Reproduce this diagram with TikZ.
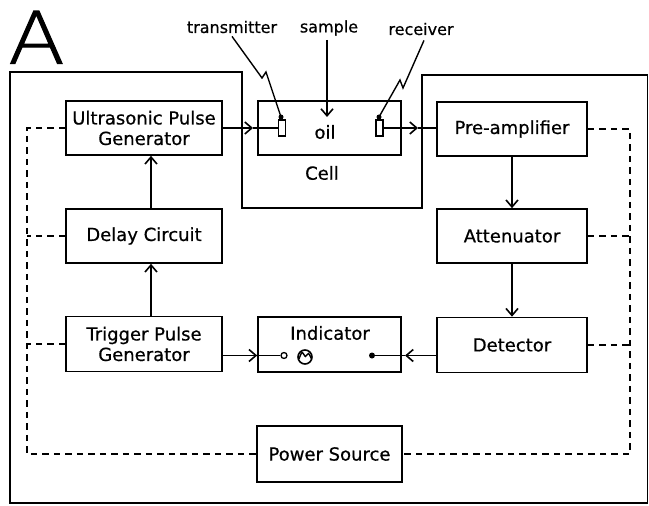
\documentclass[tikz,border=0pt]{standalone}
\usepackage{fontspec}
\setmainfont{DejaVu Sans}[FakeBold=0.6]
\newfontfamily\bigfont{DejaVu Sans ExtraLight}[FakeBold=1.5,FakeStretch=1.15]
\usetikzlibrary{arrows.meta}
\begin{document}
\begin{tikzpicture}[x=1pt,y=-1pt,
  box/.style={draw,line width=1.6pt,inner sep=0pt,align=center,font=\fontsize{18}{20.5}\selectfont},
  lbl/.style={font=\fontsize{16}{18}\selectfont,inner sep=0pt},
  txt/.style={font=\fontsize{18}{20}\selectfont,inner sep=0pt},
  conn/.style={line width=1.5pt},
  arr/.style={conn,-{Straight Barb[length=7pt,width=12pt,line width=1.6pt]}},
  pw/.style={line width=1.5pt,dash pattern=on 6.5pt off 5pt},
  elem/.style={draw,line width=1.4pt,minimum width=7pt,minimum height=16pt,inner sep=0pt},
]
\useasboundingbox (0,0) rectangle (649,506);
% big label
\node[font=\fontsize{72}{72}\selectfont\bigfont,anchor=base west,inner sep=0pt] (bigA) at (8,63.5) {A};
% outer frame
\draw[line width=1.6pt] (10,72) -- (242,72) -- (242,208) -- (422,208) -- (422,75) -- (647.5,75) -- (647.5,503) -- (10,503) -- cycle;
% boxes
\node[box,minimum width=156pt,minimum height=54pt] (ups) at (144,128) {Ultrasonic Pulse\\Generator};
\node[box,minimum width=143pt,minimum height=54pt] (cell) at (329.5,128) {};
\node[box,minimum width=150pt,minimum height=54pt] (pre) at (512,129) {Pre-amplifier};
\node[box,minimum width=156pt,minimum height=54pt] (dly) at (144,236) {Delay Circuit};
\node[box,minimum width=150pt,minimum height=54pt] (att) at (512,236) {Attenuator};
\node[box,minimum width=156pt,minimum height=55pt] (trg) at (144,344) {Trigger Pulse\\Generator};
\node[box,minimum width=143pt,minimum height=55pt] (ind) at (329.5,344.5) {};
\node[box,minimum width=150pt,minimum height=55pt] (det) at (512,345) {Detector};
\node[box,minimum width=145pt,minimum height=56pt] (pwr) at (329.5,454) {Power Source};
% cell contents
\node[elem] (tx) at (282,128) {};
\node[elem] (rx) at (379.5,128) {};
\node[txt] (oil) at (325,132) {oil};
\node[txt] (celll) at (322,173) {Cell};
\node[lbl] (tlbl) at (232,27) {transmitter};
\node[lbl] (slbl) at (329,28) {sample};
\node[lbl] (rlbl) at (421,29) {receiver};
\coordinate (tdot) at (281,117);
\coordinate (rdot) at (379,117);
\draw[conn,line width=1.4pt] (tlbl.south) ++(0,3) -- (262,78) -- (266,72) -- (tdot);
\fill (tdot) circle (2.5);
\draw[conn,line width=1.4pt] (rlbl.south) ++(3,5) -- (403,88) -- (400,80) -- (rdot);
\fill (rdot) circle (2.5);
\coordinate (samp) at (327,117);
\draw[arr,line width=1.4pt] (slbl.south) ++(-2,4) -- (samp);
% indicator contents
\node[txt] (indl) at (330,333) {Indicator};
\node[circle,draw,line width=1.6pt,minimum size=14pt,inner sep=0pt] (scope) at (305,357) {};
\draw[line width=1.4pt] plot[smooth] coordinates {(299,359) (302,352.5) (305.5,356.5) (308.5,353.5) (311.5,359)};
\node[circle,draw,fill=white,line width=1.3pt,minimum size=6pt,inner sep=0pt] (oc) at (284,355.5) {};
\node[circle,fill,minimum size=6pt,inner sep=0pt] (fd) at (372,355.5) {};
% signal arrows
\coordinate (m1) at (253,128);
\draw[conn] (m1) -- (tx.west);
\draw[arr] (ups.east |- m1) -- (m1);
\coordinate (m2) at (418,128);
\draw[conn] (m2) -- (pre.west |- m2);
\draw[arr] (rx.east) -- (m2);
\coordinate (c1) at (151,0);
\draw[arr] (dly.north -| c1) -- (ups.south -| c1);
\draw[arr] (trg.north -| c1) -- (dly.south -| c1);
\draw[arr] (pre.south) -- (att.north);
\draw[arr] (att.south) -- (det.north);
\draw[arr] (trg.east |- oc) -- (ind.west |- oc);
\draw[conn] (ind.west |- oc) -- (oc.west);
\coordinate (m3) at (405,355.5);
\draw[arr] (det.west |- m3) -- (m3);
\draw[conn] (m3) -- (fd);
% power wiring
\coordinate (L) at (27,0);
\coordinate (R) at (630,0);
\draw[pw] (ups.west) -- (ups.west -| L) -- (pwr.west -| L) -- (pwr.west);
\draw[pw] (dly.west) -- (dly.west -| L);
\draw[pw] (trg.west) -- (trg.west -| L);
\draw[pw] (pre.east) -- (pre.east -| R) -- (pwr.east -| R) -- (pwr.east);
\draw[pw] (att.east) -- (att.east -| R);
\draw[pw] (det.east) -- (det.east -| R);
\end{tikzpicture}
\end{document}
